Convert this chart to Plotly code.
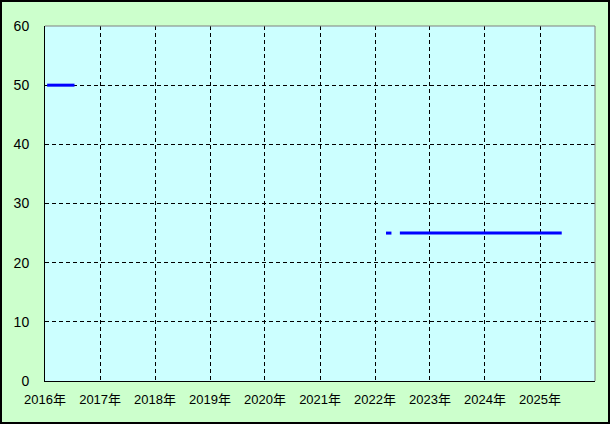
import plotly.graph_objects as go

# Data
seg1_x = ["2016-01-15", "2016-07-15"]
seg1_y = [50, 50]
seg2_x = ["2022-03-15", "2022-04-20"]
seg2_y = [25, 25]
seg3_x = ["2022-06-15", "2025-05-25"]
seg3_y = [25, 25]
year_ticks = [f"{y}-01-01" for y in range(2016, 2026)]
year_labels = [f"{y}年" for y in range(2016, 2026)]
y_ticks = [0, 10, 20, 30, 40, 50, 60]

W, H = 610, 424
ML, MR, MT, MB = 45, 15, 26, 43
PW, PH = W - ML - MR, H - MT - MB

fig = go.Figure()
for xs, ys in [(seg1_x, seg1_y), (seg2_x, seg2_y), (seg3_x, seg3_y)]:
    fig.add_trace(go.Scatter(x=xs, y=ys, mode="lines",
                             line=dict(color="#0000FF", width=3),
                             showlegend=False, hoverinfo="skip"))

fam = "Liberation Sans, Noto Sans CJK JP, sans-serif"
font = dict(family=fam, size=13, color="black")

fig.update_layout(
    width=W, height=H,
    margin=dict(l=ML, r=MR, t=MT, b=MB),
    paper_bgcolor="#CCFFCC",
    plot_bgcolor="#CCFFFF",
    showlegend=False,
    font=font,
    xaxis=dict(
        type="date",
        range=["2016-01-01", "2026-01-01"],
        tickvals=year_ticks, ticktext=year_labels,
        showgrid=True, gridcolor="black", griddash="4px,3px", gridwidth=1,
        showline=True, linecolor="black", linewidth=1,
        ticks="", ticklabelstandoff=6,
        zeroline=False, tickfont=font,
    ),
    yaxis=dict(
        range=[0, 60],
        tickvals=y_ticks,
        showgrid=True, gridcolor="black", griddash="4px,3px", gridwidth=1,
        showline=True, linecolor="black", linewidth=1,
        ticks="", ticklabelstandoff=12,
        zeroline=False, tickfont=dict(family=fam, size=14, color="black"),
    ),
    shapes=[
        dict(type="line", xref="paper", yref="paper", x0=0, x1=1, y0=1, y1=1,
             line=dict(color="#808080", width=1)),
        dict(type="line", xref="paper", yref="paper", x0=1, x1=1, y0=0, y1=1,
             line=dict(color="#808080", width=1)),
        dict(type="rect", xref="paper", yref="paper",
             x0=-(ML - 1) / PW, x1=1 + (MR - 1) / PW,
             y0=-(MB - 1) / PH, y1=1 + (MT - 1) / PH,
             line=dict(color="black", width=2)),
    ],
)

fig.write_html("out.html", config={"displayModeBar": False},
               post_script="document.body.style.margin='0';document.body.style.overflow='hidden';")
